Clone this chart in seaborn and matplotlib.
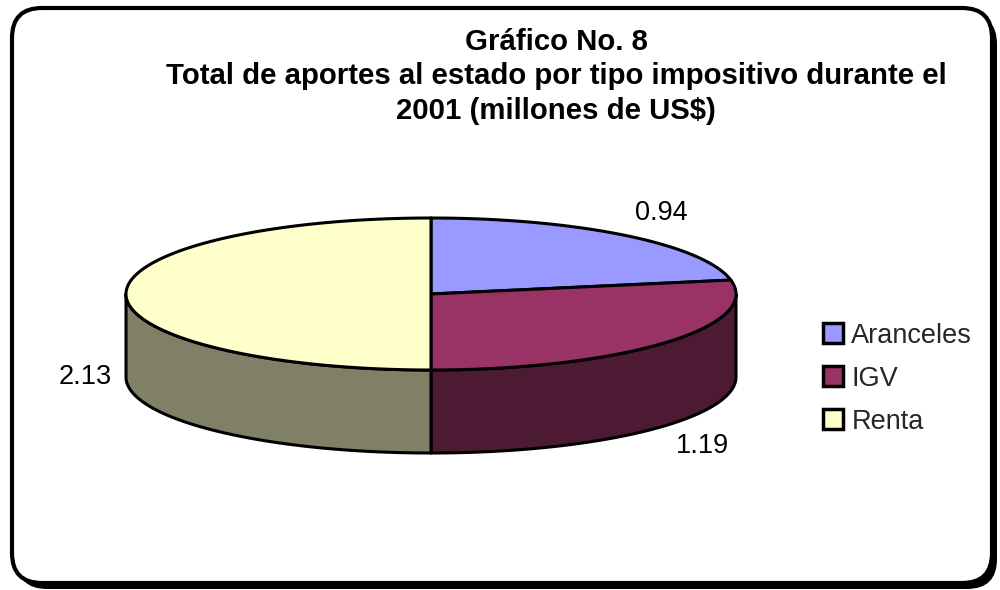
import numpy as np
import matplotlib
matplotlib.use("Agg")
import matplotlib.pyplot as plt
import matplotlib.patches as mpatches
from matplotlib.patches import FancyBboxPatch, Polygon
import seaborn as sns

# ---------------------------------------------
# Data
# ---------------------------------------------
categories = ["Aranceles", "IGV", "Renta"]
values = [0.94, 1.19, 2.13]
value_labels = ["0.94", "1.19", "2.13"]
title_lines = [
    "Gráfico No. 8",
    "Total de aportes al estado por tipo impositivo durante el",
    "2001 (millones de US$)",
]

# ---------------------------------------------
# Style
# ---------------------------------------------
sns.set_theme(style="white")
plt.rcParams["font.family"] = ["Liberation Sans", "DejaVu Sans"]

top_colors = sns.color_palette(["#9999FF", "#993366", "#FFFFCC"])
side_colors = [tuple(c * 0.5 for c in col) for col in top_colors]

# pie geometry (pixel units)
cx, cy = 431, 294
a, b = 305, 76
depth = 83

fig = plt.figure(figsize=(10, 5.9), dpi=100)
ax = fig.add_axes([0, 0, 1, 1])
ax.set_xlim(0, 1000)
ax.set_ylim(590, 0)
ax.axis("off")

# frame with shadow
shadow = FancyBboxPatch((17, 14), 980, 575, boxstyle="round,pad=0,rounding_size=30",
                        facecolor="black", edgecolor="black", linewidth=0)
ax.add_patch(shadow)
frame = FancyBboxPatch((12, 8), 980, 575, boxstyle="round,pad=0,rounding_size=30",
                       facecolor="white", edgecolor="black", linewidth=3)
ax.add_patch(frame)


def rim(t_deg, dz=0):
    t = np.radians(t_deg)
    return np.column_stack([cx + a * np.cos(t), cy - b * np.sin(t) + dz])


# wedge angles: Excel starts at 12 o'clock and goes clockwise
total = sum(values)
starts, ends = [], []
t0 = 90.0
for v in values:
    t1 = t0 - 360.0 * v / total
    starts.append(t0)
    ends.append(t1)
    t0 = t1

# side walls (front half only: angles between -180 and 0)
for s, e, col in zip(starts, ends, side_colors):
    lo, hi = max(e, -180.0), min(s, 0.0)
    if hi <= lo:
        continue
    ts = np.linspace(lo, hi, 120)
    pts = np.vstack([rim(ts), rim(ts[::-1], depth)])
    ax.add_patch(Polygon(pts, closed=True, facecolor=col, edgecolor="black",
                         linewidth=2.2, joinstyle="round"))

# top faces
for s, e, col in zip(starts, ends, top_colors):
    ts = np.linspace(e, s, 200)
    pts = np.vstack([[cx, cy], rim(ts)])
    ax.add_patch(Polygon(pts, closed=True, facecolor=col, edgecolor="black",
                         linewidth=2.2, joinstyle="round"))

# data labels
for s, e, lab in zip(starts, ends, value_labels):
    mid = (s + e) / 2
    c, sn = np.cos(np.radians(mid)), np.sin(np.radians(mid))
    dz = depth if sn < 0 else 0
    x, y = rim(np.array([mid]), dz)[0]
    x += 14 * c
    y -= 12 * sn
    ha = "left" if c > 0.2 else ("right" if c < -0.2 else "center")
    va = "bottom" if sn > 0.2 else ("top" if sn < -0.2 else "center")
    ax.text(x, y, lab, fontsize=19.5, ha=ha, va=va, color="black")

# title
for i, line in enumerate(title_lines):
    ax.text(556, 42 + 34.5 * i, line, fontsize=21.2, fontweight="bold",
            ha="center", va="center", color="black")

# legend
handles = [mpatches.Patch(facecolor=col, edgecolor="black", linewidth=2.5, label=cat)
           for col, cat in zip(top_colors, categories)]
ax.legend(handles=handles, loc="upper left", bbox_to_anchor=(0.823, 0.453),
          frameon=False, fontsize=19.5, handlelength=0.75, handleheight=0.75,
          handletextpad=0.3, labelspacing=0.63, borderpad=0, borderaxespad=0)

fig.savefig("out.png", dpi=100)
